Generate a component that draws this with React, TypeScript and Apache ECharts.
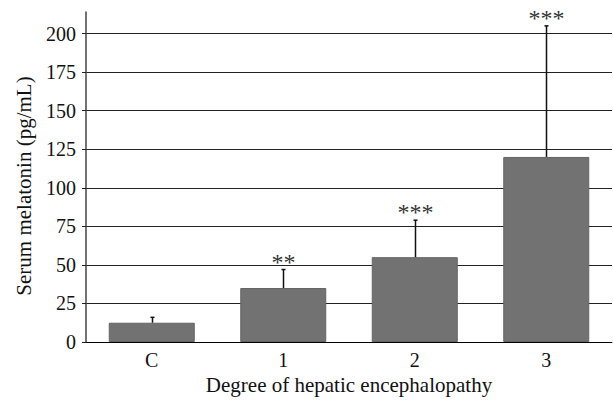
import React, { useEffect, useRef } from "react";
import * as echarts from "echarts";

const categories = ["C", "1", "2", "3"];
const means = [12.5, 35, 55, 120];
const errorTops = [16, 47, 79, 205];
const significance = ["", "**", "***", "***"];
const yTicks = [0, 25, 50, 75, 100, 125, 150, 175, 200];

const FONT = "Liberation Serif";

export default function App() {
  const ref = useRef<HTMLDivElement>(null);

  useEffect(() => {
    if (!ref.current) return;
    const chart = echarts.init(ref.current, undefined, { renderer: "svg" });
    const option: any = {
      animation: false,
      backgroundColor: "#ffffff",
      textStyle: { fontFamily: FONT },
      grid: { left: 86, right: 1, top: 12, bottom: 62, containLabel: false },
      xAxis: {
        type: "category",
        data: categories,
        axisLine: { show: true, lineStyle: { color: "#000", width: 1 } },
        axisTick: { show: false },
        axisLabel: { color: "#111", fontFamily: FONT, fontSize: 20, margin: 8 },
        name: "Degree of hepatic encephalopathy",
        nameLocation: "middle",
        nameGap: 30,
        nameTextStyle: { color: "#111", fontFamily: FONT, fontSize: 21 },
      },
      yAxis: {
        type: "value",
        min: 0,
        max: 214,
        interval: 25,
        axisLine: { show: true, lineStyle: { color: "#444", width: 1.5 } },
        axisTick: { show: true, length: 4, inside: false, lineStyle: { color: "#222" } },
        axisLabel: {
          color: "#111",
          fontFamily: FONT,
          fontSize: 20,
          margin: 10,
          showMaxLabel: false,
          formatter: (v: number) => (yTicks.includes(v) ? String(v) : ""),
        },
        splitLine: { show: true, showMaxLine: false, lineStyle: { color: "#222", width: 1 } },
      },
      graphic: [
        {
          type: "text",
          x: 24,
          y: 186,
          rotation: Math.PI / 2,
          style: {
            text: "Serum melatonin (pg/mL)",
            fontFamily: FONT,
            fontSize: 21,
            fill: "#111",
            align: "center",
            verticalAlign: "middle",
          },
        },
      ],
      series: [
        {
          type: "bar",
          data: means,
          barWidth: 86,
          itemStyle: {
            color: "#727272",
            borderColor: "#646464",
            borderWidth: 1,
          },
          z: 2,
        },
        {
          type: "custom",
          z: 3,
          data: categories.map((_, i) => [i, means[i], errorTops[i]]),
          renderItem: (params: any, api: any) => {
            const i = api.value(0);
            const base = api.coord([i, api.value(1)]);
            const top = api.coord([i, api.value(2)]);
            const x = Math.round(base[0]) + 0.5;
            const children: any[] = [
              {
                type: "line",
                shape: { x1: x, y1: base[1], x2: x, y2: top[1] },
                style: { stroke: "#111", lineWidth: 1.5 },
              },
              {
                type: "line",
                shape: { x1: x - 2, y1: top[1], x2: x + 2, y2: top[1] },
                style: { stroke: "#111", lineWidth: 1.5 },
              },
            ];
            const s = significance[params.dataIndex];
            if (s) {
              children.push({
                type: "text",
                x: x,
                y: top[1] - 8,
                style: {
                  text: s,
                  fontFamily: FONT,
                  fontSize: 24,
                  fill: "#333",
                  align: "center",
                  verticalAlign: "middle",
                },
              });
            }
            return { type: "group", children };
          },
        },
      ],
    };
    chart.setOption(option);
    return () => chart.dispose();
  }, []);

  return (
    <div
      ref={ref}
      style={{ position: "fixed", left: 0, top: 0, width: 613, height: 404 }}
    />
  );
}
